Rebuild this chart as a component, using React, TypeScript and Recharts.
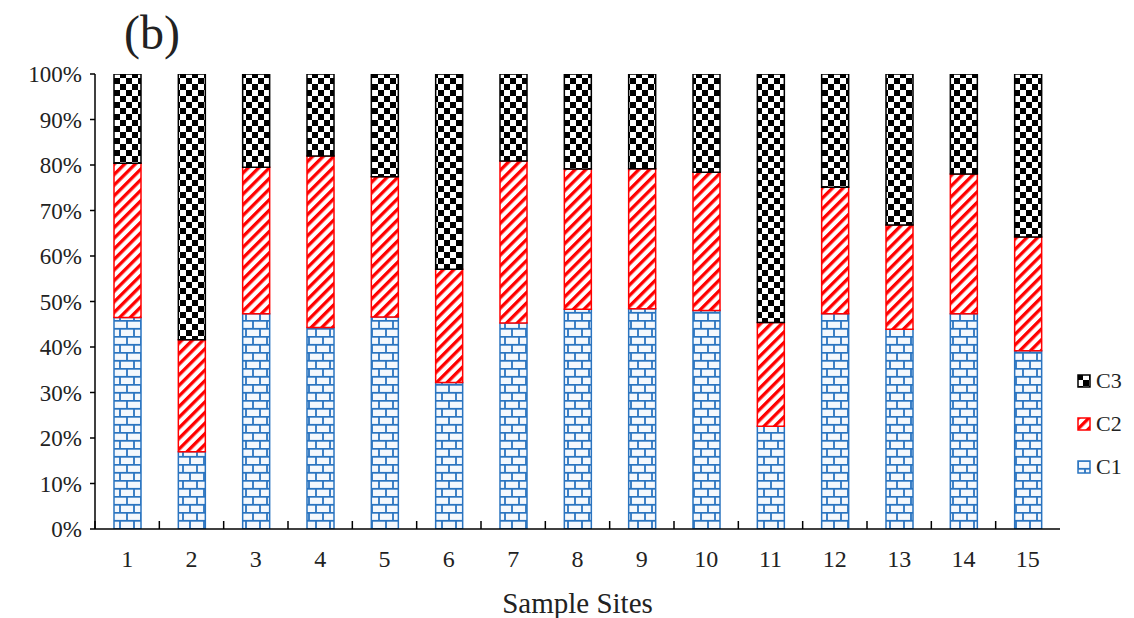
import React from 'react';
import { BarChart, Bar, XAxis, YAxis, Label } from 'recharts';

const CATEGORIES = ['1', '2', '3', '4', '5', '6', '7', '8', '9', '10', '11', '12', '13', '14', '15'];
const C1_VALUES = [46.5, 17.0, 47.3, 44.3, 46.6, 32.2, 45.3, 48.3, 48.4, 48.0, 22.6, 47.3, 43.9, 47.3, 39.2];
const C2_VALUES = [33.9, 24.6, 32.2, 37.7, 30.8, 24.9, 35.6, 30.8, 30.8, 30.4, 22.8, 27.8, 22.9, 30.7, 25.0];
const C3_VALUES = [19.6, 58.4, 20.5, 18.0, 22.6, 42.9, 19.1, 20.9, 20.8, 21.6, 54.6, 24.9, 33.2, 22.0, 35.8];
const Y_TICKS = [0, 10, 20, 30, 40, 50, 60, 70, 80, 90, 100];
const SERIES_NAMES = ['C1', 'C2', 'C3'];

const data = CATEGORIES.map((site, i) => ({
  site,
  C1: C1_VALUES[i],
  C2: C2_VALUES[i],
  C3: C3_VALUES[i],
}));

const W = 1134;
const H = 618;
const M_TOP = 74;
const M_RIGHT = 74;
const Y_W = 95;
const X_H = 89;
const PLOT_W = W - M_RIGHT - Y_W;
const FONT = "'Liberation Serif', 'Times New Roman', serif";
const BLUE = '#2a74c0';
const RED = '#ff0000';

const PATTERN = { C1: 'url(#pat-c1)', C2: 'url(#pat-c2)', C3: 'url(#pat-c3)' } as Record<string, string>;
const STROKE = { C1: BLUE, C2: RED, C3: '#000' } as Record<string, string>;

const Patterns = () => (
  <defs>
    <pattern id="pat-c1" patternUnits="userSpaceOnUse" width="14" height="16">
      <rect x="0" y="0" width="14" height="16" fill="#f4f8fd" />
      <line x1="0" y1="0.8" x2="14" y2="0.8" stroke={BLUE} strokeWidth="1.8" />
      <line x1="0" y1="8.8" x2="14" y2="8.8" stroke={BLUE} strokeWidth="1.8" />
      <line x1="1" y1="0" x2="1" y2="8" stroke={BLUE} strokeWidth="1.8" />
      <line x1="8" y1="8" x2="8" y2="16" stroke={BLUE} strokeWidth="1.8" />
    </pattern>
    <pattern id="pat-c2" patternUnits="userSpaceOnUse" width="7.5" height="7.5" patternTransform="rotate(45)">
      <rect x="0" y="0" width="7.5" height="7.5" fill="#fff" />
      <rect x="0" y="0" width="3.3" height="7.5" fill={RED} />
    </pattern>
    <pattern id="pat-c3" patternUnits="userSpaceOnUse" width="12" height="12">
      <rect x="0" y="0" width="12" height="12" fill="#fff" />
      <rect x="0" y="0" width="6" height="6" fill="#000" />
      <rect x="6" y="6" width="6" height="6" fill="#000" />
    </pattern>
  </defs>
);

const XTick = (props: any) => {
  const { x, y, payload } = props;
  const band = PLOT_W / CATEGORIES.length;
  return (
    <g>
      <line x1={x - band / 2} x2={x - band / 2} y1={y} y2={y - 8} stroke="#000" strokeWidth={1.5} />
      <text x={x} y={y + 30} textAnchor="middle" dominantBaseline="central" fontSize={24} fontFamily={FONT} fill="#222">
        {payload.value}
      </text>
    </g>
  );
};

const LegendBox = () => (
  <div style={{ position: 'absolute', left: 1077, top: 359, fontFamily: FONT, fontSize: 22, color: '#222' }}>
    {[...SERIES_NAMES].reverse().map((name) => (
      <div key={name} style={{ display: 'flex', alignItems: 'center', height: 43 }}>
        <svg width={14} height={14} style={{ marginRight: 5 }}>
          <rect x={1} y={1} width={12} height={12} fill={PATTERN[name]} stroke={STROKE[name]} strokeWidth={1.5} />
        </svg>
        <span>{name}</span>
      </div>
    ))}
  </div>
);

export default function App() {
  return (
    <div style={{ position: 'absolute', left: 0, top: 0, width: W, height: H, background: '#fff' }}>
      <BarChart
        width={W}
        height={H}
        data={data}
        margin={{ top: M_TOP, right: M_RIGHT, bottom: 0, left: 0 }}
        barSize={27}
      >
        <Patterns />
        <XAxis
          dataKey="site"
          height={X_H}
          tickLine={false}
          tickSize={0}
          tickMargin={0}
          tick={<XTick />}
          interval={0}
          axisLine={{ stroke: '#000', strokeWidth: 1.5 }}
        >
          <Label value="Sample Sites" position="insideBottom" offset={5} style={{ fontSize: 29, fontFamily: FONT, fill: '#222' }} />
        </XAxis>
        <XAxis xAxisId="top" dataKey="site" orientation="top" height={0} tick={false} tickLine={false} axisLine={{ stroke: '#000', strokeWidth: 1.5 }} />
        <YAxis
          width={Y_W}
          domain={[0, 100]}
          ticks={Y_TICKS}
          tickFormatter={(v: number) => `${v}%`}
          tickSize={5}
          tickMargin={8}
          tick={{ fontSize: 23, fontFamily: FONT, fill: '#222' }}
          tickLine={{ stroke: '#000', strokeWidth: 1.5 }}
          axisLine={{ stroke: '#000', strokeWidth: 1.5 }}
          allowDataOverflow
        />
        <YAxis yAxisId="right" orientation="right" width={0} domain={[0, 100]} tick={false} tickLine={false} axisLine={{ stroke: '#000', strokeWidth: 1.5 }} />
        {SERIES_NAMES.map((name) => (
          <Bar
            key={name}
            dataKey={name}
            stackId="a"
            fill={PATTERN[name]}
            stroke={STROKE[name]}
            strokeWidth={1.5}
            isAnimationActive={false}
          />
        ))}
      </BarChart>
      <div style={{ position: 'absolute', left: 124, top: 4, fontFamily: FONT, fontSize: 48, color: '#222', lineHeight: '58px' }}>
        (b)
      </div>
      <LegendBox />
    </div>
  );
}
